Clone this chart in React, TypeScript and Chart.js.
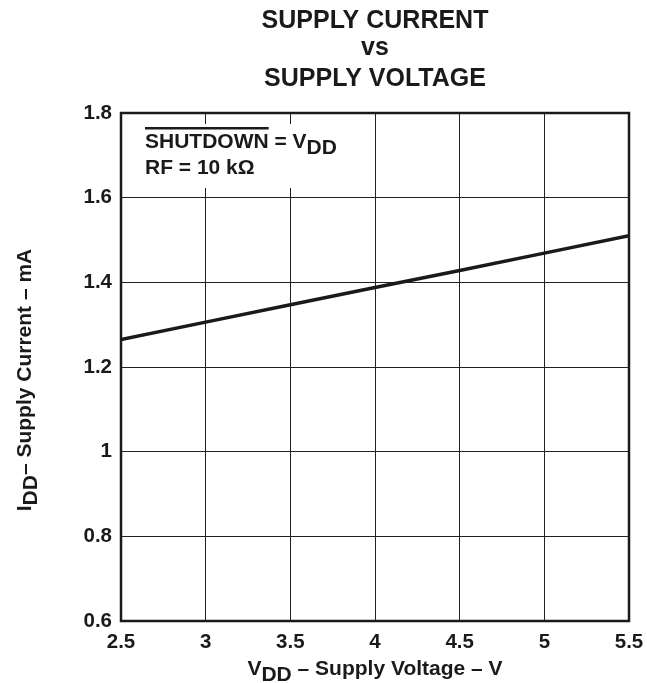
import { useEffect, useRef } from 'react';
import { Chart, registerables } from 'chart.js';
Chart.register(...registerables);

const voltage = [2.5, 3, 3.5, 4, 4.5, 5, 5.5];
const current = [1.265, 1.306, 1.347, 1.388, 1.428, 1.469, 1.51];
const xTicks = [2.5, 3, 3.5, 4, 4.5, 5, 5.5];
const yTicks = [0.6, 0.8, 1, 1.2, 1.4, 1.6, 1.8];
const titleLines = ['SUPPLY CURRENT', 'vs', 'SUPPLY VOLTAGE'];

const FONT = '"Liberation Sans", Arial, sans-serif';

type Seg = { t: string; sub?: boolean };

function drawSegs(ctx: CanvasRenderingContext2D, segs: Seg[], x: number, y: number, size: number, align: 'left' | 'center') {
  ctx.font = `bold ${size}px ${FONT}`;
  const widths = segs.map((s) => ctx.measureText(s.t).width);
  const total = widths.reduce((a, b) => a + b, 0);
  let cx = align === 'center' ? x - total / 2 : x;
  ctx.textAlign = 'left';
  ctx.textBaseline = 'alphabetic';
  const pos: number[] = [];
  segs.forEach((s, i) => {
    pos.push(cx);
    ctx.fillText(s.t, cx, y + (s.sub ? size * 0.27 : 0));
    cx += widths[i];
  });
  return { pos, widths };
}

const textPlugin = {
  id: 'texts',
  beforeDatasetsDraw(chart: any) {
    const ctx = chart.ctx as CanvasRenderingContext2D;
    ctx.save();
    ctx.fillStyle = '#fff';
    ctx.fillRect(126, 124, 218, 64);
    ctx.fillStyle = '#1a1a1a';
    const r = drawSegs(ctx, [{ t: 'SHUTDOWN' }, { t: ' = V' }, { t: 'DD', sub: true }], 145, 148, 21, 'left');
    ctx.fillRect(r.pos[0], 127, r.widths[0], 2.5);
    drawSegs(ctx, [{ t: 'RF = 10 k\u03A9' }], 145, 174, 21, 'left');
    ctx.restore();
  },
  afterDraw(chart: any) {
    const ctx = chart.ctx as CanvasRenderingContext2D;
    const a = chart.chartArea;
    ctx.save();
    ctx.strokeStyle = '#1a1a1a';
    ctx.lineWidth = 2.5;
    ctx.strokeRect(a.left, a.top, a.right - a.left, a.bottom - a.top);
    ctx.fillStyle = '#1a1a1a';
    const cx = (a.left + a.right) / 2;
    ctx.font = `bold 25px ${FONT}`;
    ctx.textAlign = 'center';
    ctx.textBaseline = 'alphabetic';
    const bl = [28, 55, 86];
    titleLines.forEach((t, i) => ctx.fillText(t, cx, bl[i]));
    drawSegs(ctx, [{ t: 'V' }, { t: 'DD', sub: true }, { t: ' \u2013 Supply Voltage \u2013 V' }], cx, 675, 21, 'center');
    ctx.translate(31, 380);
    ctx.rotate(-Math.PI / 2);
    drawSegs(ctx, [{ t: 'I' }, { t: 'DD', sub: true }, { t: '\u2013 Supply Current \u2013 mA' }], 0, 0, 21, 'center');
    ctx.restore();
  },
};

const fmt = (v: number) => String(Math.round(v * 10) / 10);

export default function App() {
  const ref = useRef<HTMLCanvasElement>(null);
  useEffect(() => {
    if (!ref.current) return;
    const chart = new Chart(ref.current, {
      type: 'line',
      data: {
        datasets: [
          {
            data: voltage.map((v, i) => ({ x: v, y: current[i] })),
            borderColor: '#1a1a1a',
            borderWidth: 3.5,
            pointRadius: 0,
            tension: 0,
          },
        ],
      },
      plugins: [textPlugin],
      options: {
        animation: false,
        responsive: false,
        layout: { padding: { left: 0, top: 113, right: 18, bottom: 0 } },
        plugins: { legend: { display: false }, tooltip: { enabled: false } },
        scales: {
          x: {
            type: 'linear',
            min: 2.5,
            max: 5.5,
            afterBuildTicks: (s: any) => { s.ticks = xTicks.map((v) => ({ value: v })); },
            afterFit: (s: any) => { s.height = 62; s.paddingLeft = 0; s.paddingRight = 0; },
            ticks: { callback: (v: any) => fmt(Number(v)), color: '#1a1a1a', font: { family: FONT, size: 20.5, weight: 'bold' }, padding: 9, maxRotation: 0 },
            grid: { color: '#222', lineWidth: 1, drawTicks: false },
            border: { display: false },
          },
          y: {
            type: 'linear',
            min: 0.6,
            max: 1.8,
            afterBuildTicks: (s: any) => { s.ticks = yTicks.map((v) => ({ value: v })); },
            afterFit: (s: any) => { s.width = 121; s.paddingTop = 0; s.paddingBottom = 0; },
            ticks: { callback: (v: any) => fmt(Number(v)), color: '#1a1a1a', font: { family: FONT, size: 20.5, weight: 'bold' }, padding: 9 },
            grid: { color: '#222', lineWidth: 1, drawTicks: false },
            border: { display: false },
          },
        },
      },
    });
    return () => chart.destroy();
  }, []);
  return (
    <div style={{ position: 'absolute', left: 0, top: 0, width: 647, height: 683, background: '#fff' }}>
      <canvas ref={ref} width={647} height={683} style={{ display: 'block' }} />
    </div>
  );
}
